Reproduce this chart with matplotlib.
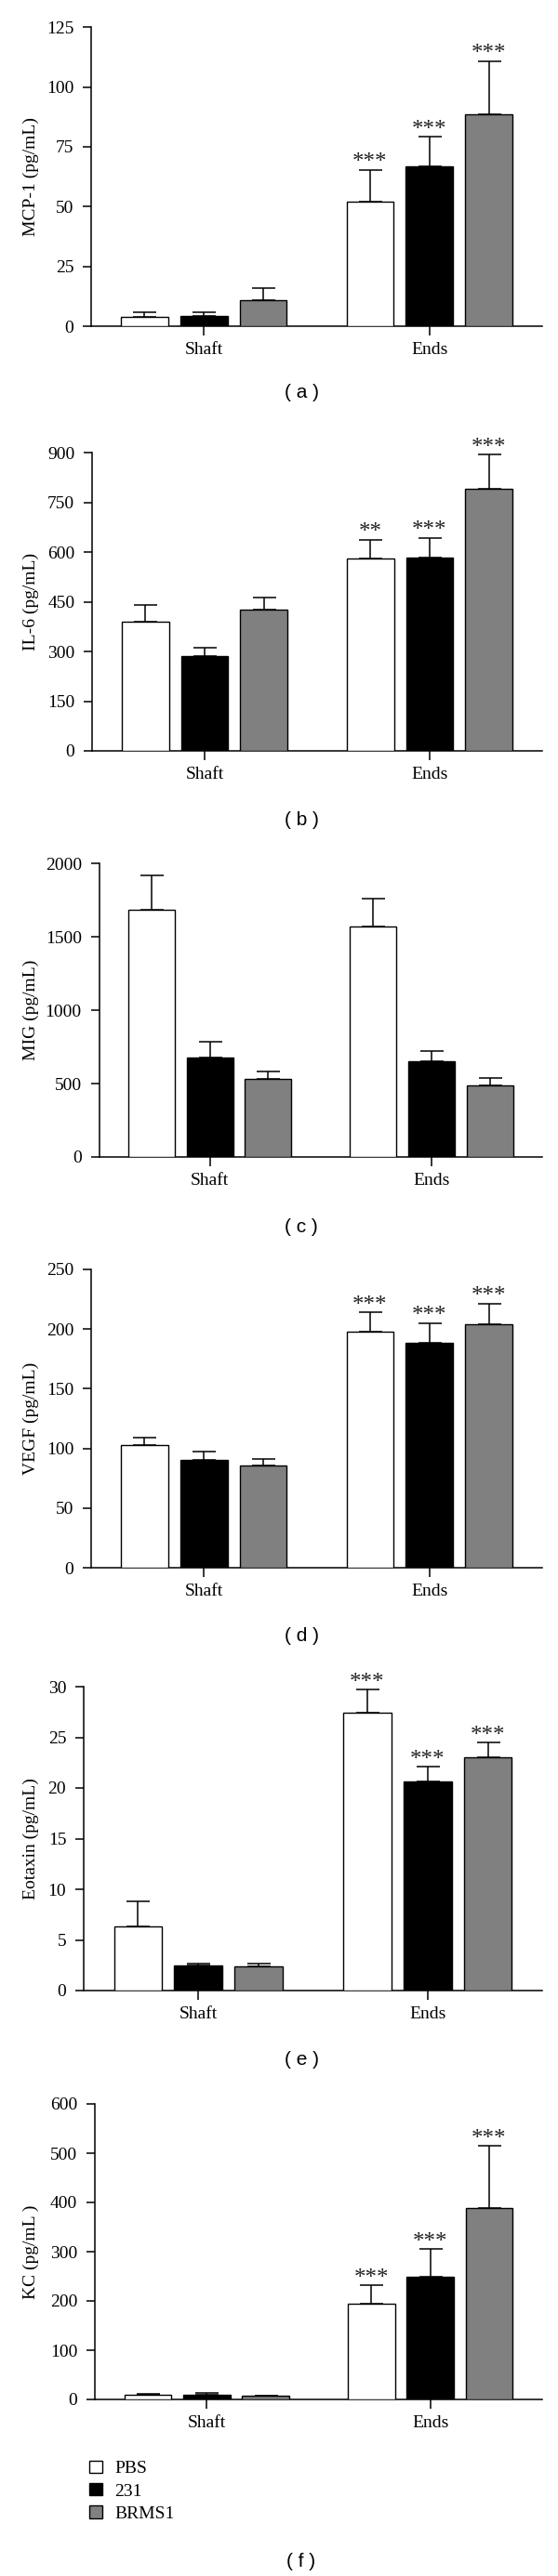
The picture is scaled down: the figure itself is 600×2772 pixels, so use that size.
import matplotlib
matplotlib.use("Agg")
import matplotlib.pyplot as plt
import numpy as np

# ---------------- data ----------------
groups = ["Shaft", "Ends"]
series = ["PBS", "231", "BRMS1"]
colors = ["#ffffff", "#000000", "#808080"]

mcp1_mean = {"PBS": [4.0, 52.1], "231": [4.3, 67.0], "BRMS1": [11.0, 88.5]}
mcp1_sem = {"PBS": [1.8, 13.3], "231": [1.5, 12.3], "BRMS1": [5.1, 22.3]}
mcp1_sig = {"PBS": ["", "***"], "231": ["", "***"], "BRMS1": ["", "***"]}

il6_mean = {"PBS": [390, 582], "231": [287, 584], "BRMS1": [426, 792]}
il6_sem = {"PBS": [50, 56], "231": [24, 59], "BRMS1": [36, 102]}
il6_sig = {"PBS": ["", "**"], "231": ["", "***"], "BRMS1": ["", "***"]}

mig_mean = {"PBS": [1688, 1572], "231": [678, 653], "BRMS1": [532, 490]}
mig_sem = {"PBS": [230, 188], "231": [108, 67], "BRMS1": [53, 49]}
mig_sig = {"PBS": ["", ""], "231": ["", ""], "BRMS1": ["", ""]}

vegf_mean = {"PBS": [102.6, 198.2], "231": [90.4, 188.6], "BRMS1": [85.5, 204.4]}
vegf_sem = {"PBS": [6.4, 15.6], "231": [6.7, 16.6], "BRMS1": [5.7, 16.9]}
vegf_sig = {"PBS": ["", "***"], "231": ["", "***"], "BRMS1": ["", "***"]}

eot_mean = {"PBS": [6.33, 27.45], "231": [2.45, 20.62], "BRMS1": [2.36, 23.07]}
eot_sem = {"PBS": [2.45, 2.23], "231": [0.24, 1.5], "BRMS1": [0.33, 1.41]}
eot_sig = {"PBS": ["", "***"], "231": ["", "***"], "BRMS1": ["", "***"]}

kc_mean = {"PBS": [9.4, 193.4], "231": [10.0, 250.0], "BRMS1": [6.9, 389.3]}
kc_sem = {"PBS": [2.5, 38.3], "231": [3.2, 55.8], "BRMS1": [1.3, 125.0]}
kc_sig = {"PBS": ["", "***"], "231": ["", "***"], "BRMS1": ["", "***"]}

ylabels = ["MCP-1 (pg/mL)", "IL-6 (pg/mL)", "MIG (pg/mL)",
           "VEGF (pg/mL)", "Eotaxin (pg/mL)", "KC (pg/mL )"]
yticks_list = [[0, 25, 50, 75, 100, 125],
               [0, 150, 300, 450, 600, 750, 900],
               [0, 500, 1000, 1500, 2000],
               [0, 50, 100, 150, 200, 250],
               [0, 5, 10, 15, 20, 25, 30],
               [0, 100, 200, 300, 400, 500, 600]]
panel_tags = ["( a )", "( b )", "( c )", "( d )", "( e )", "( f )"]

panels = [(mcp1_mean, mcp1_sem, mcp1_sig), (il6_mean, il6_sem, il6_sig),
          (mig_mean, mig_sem, mig_sig), (vegf_mean, vegf_sem, vegf_sig),
          (eot_mean, eot_sem, eot_sig), (kc_mean, kc_sem, kc_sig)]

# ---------------- layout (pixels) ----------------
W, H = 600, 2772
DPI = 100
# left, right, top(ymax), zero line
rects = [(98, 583, 29.3, 351), (99, 583, 487.3, 808), (106.5, 583, 929.5, 1245),
         (98, 583, 1366, 1687), (90, 583, 1815, 2142), (102, 583, 2264, 2582)]
tag_y = [423, 883, 1320, 1760, 2217, 2757]

serif = "Liberation Serif"
sans = "Liberation Sans"
FS = 14

fig = plt.figure(figsize=(W / DPI, H / DPI), dpi=DPI)
fig.patch.set_facecolor("white")

width = 0.21
step = 0.263
offsets = [-step, 0, step]
x = np.arange(len(groups))

handles = []
for i, ((means, sems, sigs), (l, r, top, zero)) in enumerate(zip(panels, rects)):
    ax = fig.add_axes([l / W, 1 - zero / H, (r - l) / W, (zero - top) / H])
    ticks = yticks_list[i]
    for j, s in enumerate(series):
        xs = x + offsets[j]
        b = ax.bar(xs, means[s], width, color=colors[j], edgecolor="black",
                   linewidth=1.0, zorder=3)
        if i == 5:
            handles.append(b)
        ax.errorbar(xs, means[s], yerr=[np.zeros(len(groups)), sems[s]],
                    fmt="none", ecolor="black", elinewidth=1.1, capsize=9,
                    capthick=1.1, zorder=2)
        for k in range(len(groups)):
            lab = sigs[s][k]
            if lab:
                ax.annotate(lab, (xs[k], means[s][k] + sems[s][k]),
                            xytext=(0, 1), textcoords="offset points",
                            ha="center", va="baseline", fontsize=18,
                            family=serif, color="#222222",
                            annotation_clip=False)
    ax.set_xlim(-0.5, 1.5)
    ax.set_ylim(0, ticks[-1])
    ax.set_yticks(ticks)
    ax.set_yticklabels([str(t) for t in ticks], family=serif, fontsize=FS)
    ax.set_xticks(x)
    ax.set_xticklabels(groups, family=serif, fontsize=FS)
    for sp in ["top", "right"]:
        ax.spines[sp].set_visible(False)
    ax.spines["left"].set_bounds(0, ticks[-1])
    ax.spines["left"].set_linewidth(1.1)
    ax.spines["bottom"].set_linewidth(1.1)
    ax.tick_params(axis="y", direction="out", length=6.5, width=1.1, pad=7)
    ax.tick_params(axis="x", direction="out", length=7, width=1.1, pad=5)
    ax.patch.set_alpha(0)
    fig.text(33 / W, 1 - ((top + zero) / 2) / H, ylabels[i], rotation=90,
             ha="center", va="center", family=serif, fontsize=FS)
    fig.text(324 / W, 1 - tag_y[i] / H, panel_tags[i], ha="center",
             va="center", family=sans, fontsize=15)

fig.legend(handles, series, loc="upper left",
           bbox_to_anchor=(96 / W, 1 - 2648 / H), frameon=False,
           prop={"family": serif, "size": FS}, handlelength=0.72,
           handleheight=0.67, handletextpad=0.7, labelspacing=0.35,
           borderpad=0, borderaxespad=0)

fig.savefig("out.png", dpi=DPI, facecolor="white")
